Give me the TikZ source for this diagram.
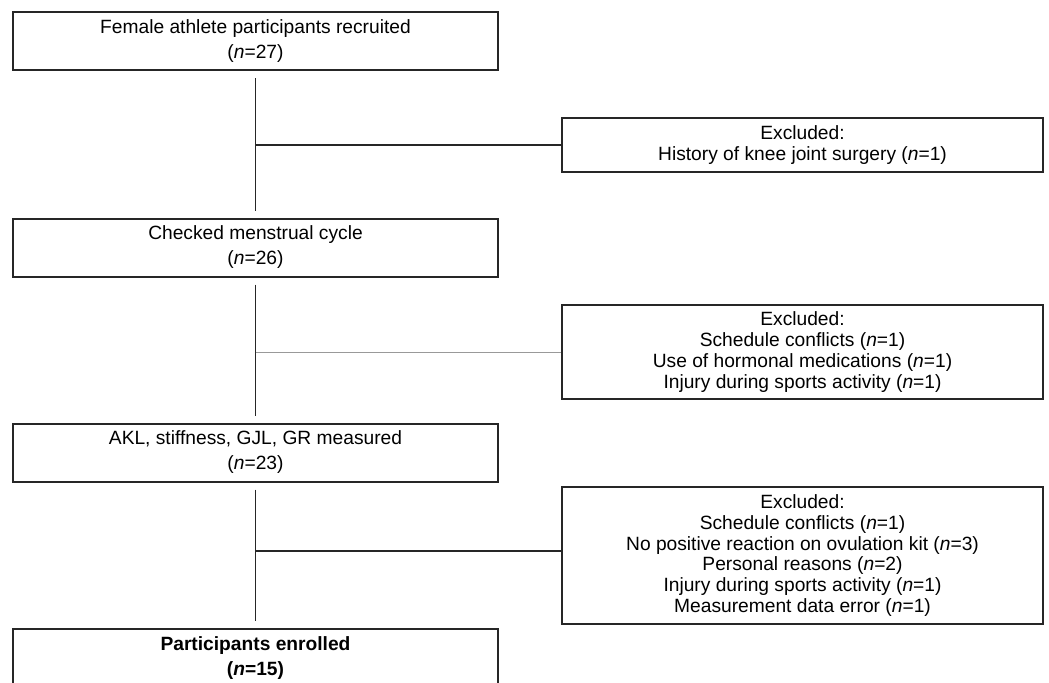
\documentclass[tikz,border=0pt]{standalone}
\usepackage{fontspec}
\setmainfont{Liberation Sans}
\usetikzlibrary{positioning}

\begin{document}
\begin{tikzpicture}[x=0.5pt, y=-0.5pt,
    every node/.style={font=\fontsize{9.6}{12.5}\selectfont},
    stagebox/.style={draw=black!85, line width=1pt, align=center,
        minimum width=242.5pt, minimum height=29pt, inner sep=0pt},
    exclbox/.style={draw=black!85, line width=1pt, align=center,
        minimum width=240.5pt, inner sep=0pt, font=\fontsize{9.6}{10.4}\selectfont},
    flow/.style={black!85, line width=0.75pt, shorten <=3.5pt, shorten >=3.5pt},
    branch/.style={black!85, line width=0.75pt}]

% Frame
\useasboundingbox (0,0) rectangle (1049,682);
\clip (0,0) rectangle (1049,682);

% Main stages
\node[stagebox] (recruited) at (255.5,41) {Female athlete participants recruited\\(\textit{n}=27)};
\node[stagebox] (checked) at (255.5,247.5) {Checked menstrual cycle\\(\textit{n}=26)};
\node[stagebox] (measured) at (255.5,452.5) {AKL, stiffness, GJL, GR measured\\(\textit{n}=23)};
\node[stagebox] (enrolled) at (255.5,658) {\textbf{Participants enrolled}\\\textbf{(\textit{n}=15)}};

% Exclusions
\node[exclbox, minimum height=27pt] (excl1) at (802.5,145)
    {Excluded:\\History of knee joint surgery (\textit{n}=1)};
\node[exclbox, minimum height=47pt] (excl2) at (802.5,352)
    {Excluded:\\Schedule conflicts (\textit{n}=1)\\Use of hormonal medications (\textit{n}=1)\\Injury during sports activity (\textit{n}=1)};
\node[exclbox, minimum height=68.5pt] (excl3) at (802.5,555.5)
    {Excluded:\\Schedule conflicts (\textit{n}=1)\\No positive reaction on ovulation kit (\textit{n}=3)\\Personal reasons (\textit{n}=2)\\Injury during sports activity (\textit{n}=1)\\Measurement data error (\textit{n}=1)};

% Flow lines
\draw[flow] (recruited) -- (checked);
\draw[flow] (checked) -- (measured);
\draw[flow] (measured) -- (enrolled);

% Branches to exclusions
\draw[branch] (excl1.west -| recruited.south) -- (excl1.west);
\draw[branch, black!40, line width=0.5pt] (excl2.west -| checked.south) -- (excl2.west);
\draw[branch] ([yshift=2.25pt]excl3.west -| measured.south) -- ([yshift=2.25pt]excl3.west);

\end{tikzpicture}
\end{document}
